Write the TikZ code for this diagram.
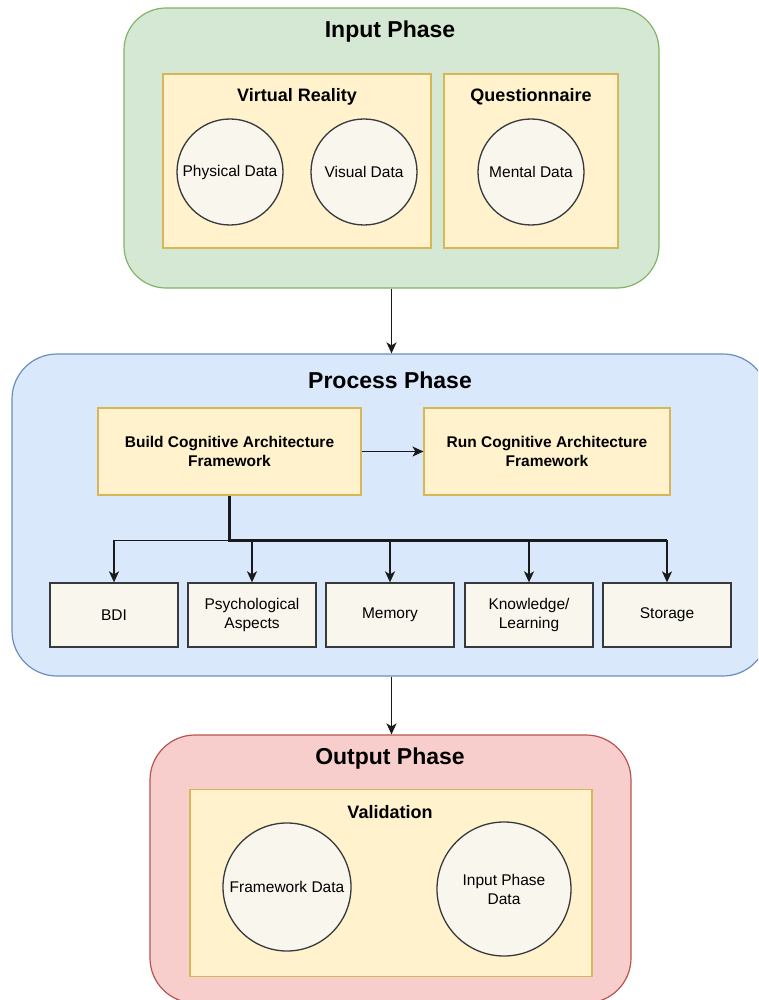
\documentclass[tikz,border=0pt]{standalone}
\usepackage{fontspec}
\setmainfont{Liberation Sans}
\usetikzlibrary{arrows.meta}

\definecolor{inFill}{HTML}{D5E8D4}
\definecolor{inLine}{HTML}{82B366}
\definecolor{procFill}{HTML}{DAE8FC}
\definecolor{procLine}{HTML}{6C8EBF}
\definecolor{outFill}{HTML}{F8CECC}
\definecolor{outLine}{HTML}{B85450}
\definecolor{groupFill}{HTML}{FFF2CC}
\definecolor{groupLine}{HTML}{D6B656}
\definecolor{itemFill}{HTML}{F9F7ED}
\definecolor{itemLine}{HTML}{36393D}
\definecolor{wire}{HTML}{1A1A1A}

\newcommand{\fs}[2]{\fontsize{#1}{#2}\selectfont}

\begin{document}
\begin{tikzpicture}[x=1pt,y=-1pt,
  phasebox/.style={draw, line width=1.2pt, inner sep=0pt},
  phasetitle/.style={font=\fs{23}{28}\bfseries, inner sep=0pt},
  groupbox/.style={draw=groupLine, fill=groupFill, line width=1.1pt, inner sep=0pt},
  grouptitle/.style={font=\fs{18}{22}\bfseries, inner sep=0pt},
  datacircle/.style={circle, draw=itemLine, fill=itemFill, line width=1.3pt, inner sep=0pt, font=\fs{15.5}{19}, align=center},
  stepbox/.style={groupbox, font=\fs{15.5}{19}\bfseries, align=center},
  partbox/.style={draw=itemLine, fill=itemFill, line width=1.3pt, inner sep=0pt, minimum width=128pt, minimum height=64pt, font=\fs{15.5}{19}, align=center},
  arr/.style={draw=wire, line width=1.6pt, -{Stealth[length=11pt,width=10pt,inset=3pt]}},
  trunk/.style={draw=wire, line width=2.4pt}
]
\clip (0,0) rectangle (758,1000);
\useasboundingbox (0,0) rectangle (758,1000);
\fill[white] (0,0) rectangle (758,1000);

% ---------- Input phase ----------
\node[phasebox, draw=inLine, fill=inFill, rounded corners=42pt, minimum width=535pt, minimum height=280pt] (input) at (391.5,148) {};
\node[phasetitle] (inputT) at (390,32) {Input Phase};

\node[groupbox, minimum width=268pt, minimum height=174pt] (vr) at (297,161) {};
\node[grouptitle] (vrT) at (297,97) {Virtual Reality};
\node[groupbox, minimum width=174pt, minimum height=174pt] (quest) at (531,161) {};
\node[grouptitle] (questT) at (531,97) {Questionnaire};

\node[datacircle, minimum size=106pt] (phys) at (230,172) {Physical Data};
\node[datacircle, minimum size=106pt] (vis) at (364,172) {Visual Data};
\node[datacircle, minimum size=106pt] (mental) at (531,172) {Mental Data};

% ---------- Process phase ----------
\node[phasebox, draw=procLine, fill=procFill, rounded corners=45pt, minimum width=756pt, minimum height=322pt] (process) at (390,515) {};
\node[phasetitle] (processT) at (390,380) {Process Phase};

\node[stepbox, minimum width=263pt, minimum height=87pt] (build) at (229.5,451.5) {Build Cognitive Architecture\\Framework};
\node[stepbox, minimum width=246pt, minimum height=87pt] (run) at (547,451.5) {Run Cognitive Architecture\\Framework};

\node[partbox] (bdi) at (114,615) {BDI};
\node[partbox] (psych) at (252,615) {Psychological\\Aspects};
\node[partbox] (memory) at (390,615) {Memory};
\node[partbox] (know) at (529,615) {Knowledge/\\Learning};
\node[partbox] (storage) at (667,615) {Storage};

\draw[arr] (build) -- (run);
% shared stem of the five branches
\coordinate (split) at ([yshift=-45pt]build.south);
\draw[trunk] (build.south) -- (split) -- (split -| storage.north);
\foreach \n in {bdi,psych,memory,know,storage}{
  \draw[arr] (split) -| (\n.north);
}

% ---------- Output phase ----------
\node[phasebox, draw=outLine, fill=outFill, rounded corners=45pt, minimum width=481pt, minimum height=268pt] (output) at (390.5,869) {};
\node[phasetitle] (outputT) at (390,759) {Output Phase};

\node[groupbox, minimum width=402pt, minimum height=187pt] (valid) at (391,883) {};
\node[grouptitle] (validT) at (390,812) {Validation};

\node[datacircle, minimum size=128pt] (fwdata) at (287,887) {Framework Data};
\node[datacircle, minimum size=134pt] (ipdata) at (504,889) {Input Phase\\Data};

% ---------- Phase flow ----------
\draw[arr] (input.south) -- (process.north -| input.south);
\draw[arr] (process.south -| input.south) -- (output.north -| input.south);
\end{tikzpicture}
\end{document}
